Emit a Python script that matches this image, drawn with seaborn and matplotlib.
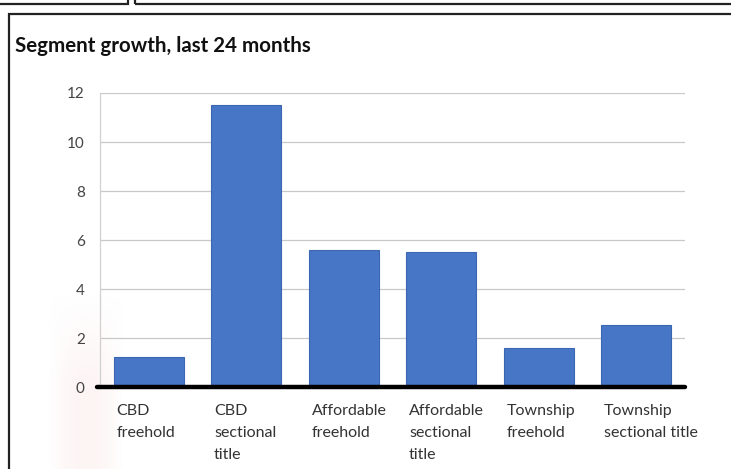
import numpy as np
import pandas as pd
import matplotlib
matplotlib.use("Agg")
import matplotlib.pyplot as plt
from matplotlib.patches import Rectangle
from matplotlib.transforms import blended_transform_factory
import seaborn as sns

# Data
categories = ["CBD\nfreehold", "CBD\nsectional\ntitle", "Affordable\nfreehold",
              "Affordable\nsectional\ntitle", "Township\nfreehold", "Township\nsectional title"]
growth = [1.22, 11.5, 5.6, 5.5, 1.6, 2.53]
y_ticks = [0, 2, 4, 6, 8, 10, 12]
title = "Segment growth, last 24 months"

sns.set_theme(style="white")
plt.rcParams["font.family"] = ["Lato", "DejaVu Sans"]

W, H = 731, 469
fig = plt.figure(figsize=(W / 100, H / 100), dpi=100)
fig.patch.set_facecolor("white")

# soft warm tint in the lower-left of the panel, fading out upward
xs = np.linspace(0, 1, 200)
ys = np.linspace(0, 1, 100)[:, None]
tint = np.zeros((100, 200, 4))
tint[..., 0] = 0.98
tint[..., 1] = 0.86
tint[..., 2] = 0.85
tint[..., 3] = 0.28 * np.sin(np.pi * xs)[None, :] * np.clip(ys * 2.0, 0, 1)
bg = fig.add_axes([48 / W, 0, 75 / W, 175 / H], zorder=0)
bg.imshow(tint, aspect="auto", extent=[0, 1, 0, 1], origin="upper")
bg.axis("off")

# panel frames
frame_kw = dict(transform=fig.transFigure, fill=False, edgecolor="#222222", lw=1.6, zorder=5)
fig.patches.append(Rectangle((9 / W, -0.05), 1.0, 1 - 14.5 / H + 0.05, **frame_kw))
fig.patches.append(Rectangle((-0.05, 1 - 4 / H), 128 / W + 0.05, 0.1, **frame_kw))
fig.patches.append(Rectangle((135 / W, 1 - 4 / H), 1.0, 0.1, **frame_kw))

fig.text(15 / W, 1 - 46 / H, title, fontsize=14.8, fontweight="bold",
         color="#111111", ha="left", va="center")

ax = fig.add_axes([100 / W, 1 - 387 / H, 585 / W, 294 / H], zorder=2)
ax.patch.set_alpha(0)
df = pd.DataFrame({"segment": categories, "growth": growth})
sns.barplot(data=df, x="segment", y="growth", color="#4776C6", saturation=1,
            width=0.72, edgecolor="#3c66b2", linewidth=0.8, ax=ax, zorder=3)

ax.set_xlim(-0.5, len(categories) - 0.5)
ax.set_ylim(0, 12)
ax.set_yticks(y_ticks)
ax.set_yticklabels([str(t) for t in y_ticks], fontsize=11, color="#444444")
ax.tick_params(axis="y", length=0, pad=11)
ax.set_xticks([])
ax.set_xlabel("")
ax.set_ylabel("")
ax.yaxis.grid(True, color="#c8c8c8", lw=0.9, zorder=0)
ax.set_axisbelow(True)
for s in ["top", "right", "bottom"]:
    ax.spines[s].set_visible(False)
ax.spines["left"].set_color("#d0d0d0")
ax.spines["left"].set_linewidth(0.9)
ax.axhline(0, xmin=-0.005, xmax=1, color="black", lw=3.2, zorder=4, clip_on=False)

trans = blended_transform_factory(ax.transData, ax.transAxes)
for i, lab in enumerate(categories):
    ax.text(i - 0.33, -0.059, lab, transform=trans, ha="left", va="top",
            fontsize=11.5, color="#333333", linespacing=1.72)

fig.savefig("out.png", dpi=100, facecolor="white")
